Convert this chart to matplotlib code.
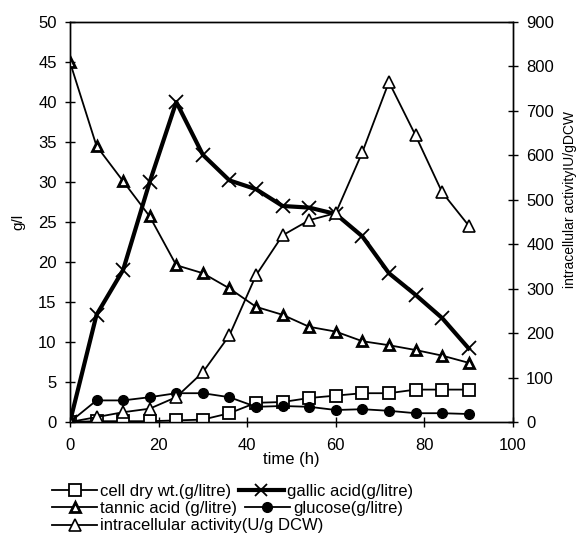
import matplotlib
matplotlib.use("Agg")
import matplotlib.pyplot as plt
from matplotlib.lines import Line2D

plt.rcParams['font.family'] = ['Liberation Sans', 'DejaVu Sans']
plt.rcParams['font.size'] = 12

# sampling times (h)
time_h = [0, 6, 12, 18, 24, 30, 36, 42, 48, 54, 60, 66, 72, 78, 84, 90]

# g/l series (left axis)
cell_dry_wt = [0, 0.1, 0.1, 0.1, 0.2, 0.3, 1.1, 2.4, 2.5, 3.0, 3.3, 3.6, 3.6, 4.05, 4.05, 4.05]
gallic_acid = [0, 13.4, 19.0, 30.0, 40.0, 33.4, 30.2, 29.1, 27.0, 26.8, 26.0, 23.2, 18.6, 15.9, 13.0, 9.2]
tannic_acid = [45.0, 34.5, 30.1, 25.7, 19.6, 18.6, 16.7, 14.4, 13.4, 11.9, 11.3, 10.1, 9.6, 9.0, 8.3, 7.4]
glucose = [0, 2.7, 2.7, 3.1, 3.6, 3.6, 3.1, 1.9, 2.0, 1.9, 1.5, 1.6, 1.4, 1.1, 1.1, 1.0]

# U/g DCW (right axis)
intracellular = [0, 11, 22, 30, 56, 112, 195, 330, 420, 454, 470, 607, 765, 645, 517, 442]

fig = plt.figure(figsize=(5.78, 5.35), dpi=100)
ax = fig.add_axes([0.121, 0.2112, 0.7665, 0.7477])
ax2 = ax.twinx()

ax.plot(time_h, cell_dry_wt, '-s', color='black', lw=1.3, ms=8, mfc='white', mec='black', mew=1.3, zorder=3)
ax.plot(time_h, gallic_acid, '-x', color='black', lw=3, ms=10, mew=1.3, zorder=3)
ax.plot(time_h, tannic_acid, '-^', color='black', lw=1.3, ms=7.5, mfc='white', mec='black', mew=2, zorder=3)
ax.plot(time_h, glucose, '-o', color='black', lw=1.3, ms=7, mfc='black', zorder=3)
ax2.plot(time_h, intracellular, '-^', color='black', lw=1.3, ms=9, mfc='white', mec='black', mew=1.2)

ax.set_xlim(0, 100)
ax.set_ylim(0, 50)
ax2.set_ylim(0, 900)
ax.set_xticks(range(0, 101, 20))
ax.set_yticks(range(0, 51, 5))
ax2.set_yticks(range(0, 901, 100))

for a in (ax, ax2):
    a.tick_params(direction='inout', length=7, width=1, labelsize=12, colors='black')
    for s in a.spines.values():
        s.set_linewidth(1)
ax.tick_params(axis='x', pad=8)
ax.tick_params(axis='y', pad=6)
ax2.tick_params(axis='y', pad=6)

ax.set_ylabel('g/l', fontsize=11)
ax.yaxis.set_label_coords(-0.1, 0.5)
ax2.set_ylabel('intracellular activityIU/gDCW', fontsize=10)
ax2.yaxis.set_label_coords(1.114, 0.555)
ax.set_xlabel('time (h)', fontsize=12)
ax.xaxis.set_label_coords(0.5, -0.075)

def handle(marker, lw, mfc, ms, mew):
    return Line2D([], [], color='black', marker=marker, lw=lw, mfc=mfc, mec='black', ms=ms, mew=mew)

h_cell = handle('s', 1.3, 'white', 8, 1.3)
h_gallic = handle('x', 3, 'black', 9, 1.3)
h_tannic = handle('^', 1.3, 'white', 7, 2)
h_glucose = handle('o', 1.3, 'black', 7, 1)
h_intra = handle('^', 1.3, 'white', 8, 1.2)

rows = [
    ([h_cell, h_gallic], ['cell dry wt.(g/litre)', 'gallic acid(g/litre)'], 0.082),
    ([h_tannic, h_glucose], ['tannic acid (g/litre)', 'glucose(g/litre)'], 0.049),
    ([h_intra], ['intracellular activity(U/g DCW)'], 0.017),
]
for handles, labels, ypos in rows:
    fig.legend(handles, labels, loc='center left', bbox_to_anchor=(0.09, ypos),
               ncol=len(handles), frameon=False, handlelength=2.7, handletextpad=0.2,
               columnspacing=0.45, borderpad=0, borderaxespad=0, fontsize=12)

fig.savefig('out.png', dpi=100)
